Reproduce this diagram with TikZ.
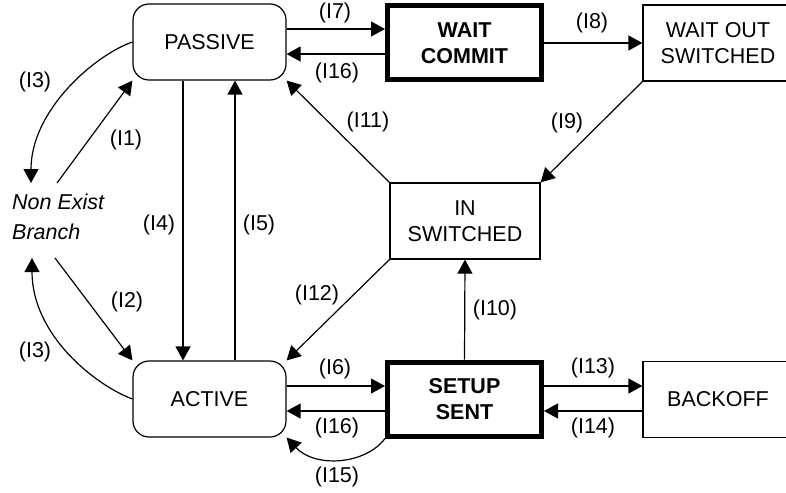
\documentclass[tikz,border=0pt]{standalone}
\usepackage{fontspec}
\setmainfont{Liberation Sans}
\usetikzlibrary{arrows.meta,calc}
\begin{document}
\begin{tikzpicture}[x=1pt,y=-1pt,
  every node/.style={font=\fontsize{21.5}{26}\selectfont},
  state/.style={draw,line width=1.2pt,rounded corners=16pt,minimum width=153pt,minimum height=76pt,inner sep=0pt,align=center},
  plainbox/.style={draw,line width=1.2pt,minimum width=150pt,minimum height=76pt,inner sep=0pt,align=center},
  heavybox/.style={draw,line width=5pt,minimum width=154pt,minimum height=74pt,inner sep=0pt,align=center,
    font=\fontsize{21.5}{26}\selectfont\bfseries},
  arr/.style={-{Triangle[length=14pt,width=15pt]},line width=1.2pt},
  lbl/.style={inner sep=0pt}]
\clip (0,0) rectangle (786,492);

% states
\node[state] (passive) at (209.5,42) {PASSIVE};
\node[state] (active) at (209.5,399) {ACTIVE};
\node[heavybox] (waitc) at (464.5,43) {WAIT\\COMMIT};
\node[heavybox] (setup) at (464.5,399) {SETUP\\SENT};
\node[plainbox] (waitout) at (718,43) {WAIT OUT\\SWITCHED};
\node[plainbox] (insw) at (465,221) {IN\\SWITCHED};
\node[plainbox] (backoff) at (718,399.5) {BACKOFF};
\node[anchor=west,inner sep=0pt,align=left,font=\fontsize{21.5}{30}\selectfont\itshape] (neb) at (12,217) {Non Exist\\Branch};

% free ends next to the Non Exist Branch text
\coordinate (nebA) at (57,183);
\coordinate (nebB) at (55,258);
\coordinate (nebTop) at (31,183);
\coordinate (nebBot) at (32,258);

% transitions
\draw[arr] ([yshift=13pt]passive.east) -- ([yshift=13pt]passive.east -| waitc.west);
\draw[arr] ([yshift=-12pt]passive.east -| waitc.west) -- ([yshift=-12pt]passive.east);
\draw[arr] (waitc.east) -- (waitout.west);
\draw[arr] (waitout.south west) -- (insw.north east);
\draw[arr] (insw.north west) -- (passive.south east);
\draw[arr] (insw.south west) -- (active.north east);
\draw[arr] ([xshift=-26.5pt]passive.south) -- ([xshift=-26.5pt]active.north);
\draw[arr] ([xshift=25.5pt]active.north) -- ([xshift=25.5pt]passive.south);
\draw[arr] (nebA) -- (passive.south west);
\draw[arr] (nebB) -- (active.north west);
\draw[arr] (passive.west) .. controls (95,55) and (31,110) .. (nebTop);
\draw[arr] (active.west) .. controls (95,385) and (32,335) .. (nebBot);
\draw[arr] ([yshift=13pt]active.east) -- ([yshift=13pt]active.east -| setup.west);
\draw[arr] ([yshift=-12pt]active.east -| setup.west) -- ([yshift=-12pt]active.east);
\draw[arr] (setup.south west) .. controls (365,465) and (315,468) .. (active.south east);
\draw[arr] (setup.north) -- (insw.south);
\draw[arr] ([yshift=13pt]setup.east) -- ([yshift=13pt]setup.east -| backoff.west);
\draw[arr] ([yshift=-12pt]setup.east -| backoff.west) -- ([yshift=-12pt]setup.east);

% transition labels
\node[lbl] (l7) at (335,13) {(I7)};
\node[lbl] (l16a) at (337,73) {(I16)};
\node[lbl] (l8) at (592,23) {(I8)};
\node[lbl] (l9) at (567,123) {(I9)};
\node[lbl] (l11) at (368,122) {(I11)};
\node[lbl] (l1) at (126,140) {(I1)};
\node[lbl] (l3a) at (35,82) {(I3)};
\node[lbl] (l4) at (159,225) {(I4)};
\node[lbl] (l5) at (259,225) {(I5)};
\node[lbl] (l2) at (127,302) {(I2)};
\node[lbl] (l3b) at (35,352) {(I3)};
\node[lbl] (l12) at (317,295) {(I12)};
\node[lbl] (l6) at (335,369) {(I6)};
\node[lbl] (l16b) at (337,428) {(I16)};
\node[lbl] (l15) at (337,477) {(I15)};
\node[lbl] (l10) at (495,310) {(I10)};
\node[lbl] (l13) at (593,368) {(I13)};
\node[lbl] (l14) at (593,428) {(I14)};
\end{tikzpicture}
\end{document}
